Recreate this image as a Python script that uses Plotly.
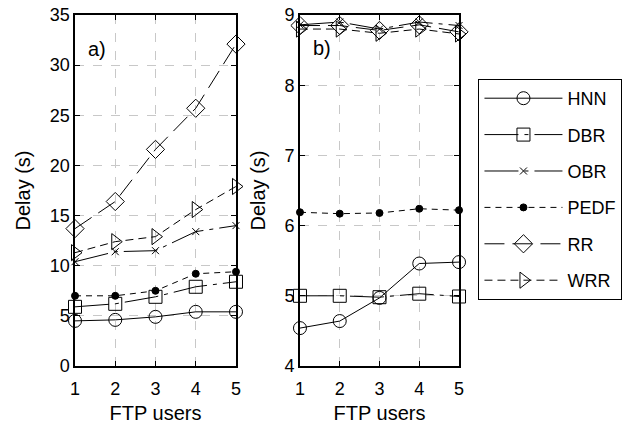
import plotly.graph_objects as go

users = [1, 2, 3, 4, 5]

# Panel a) delays (s)
a_hnn = [4.5, 4.6, 4.9, 5.4, 5.4]
a_dbr = [5.9, 6.2, 6.9, 7.9, 8.4]
a_obr = [10.4, 11.4, 11.5, 13.4, 14.0]
a_pedf = [7.0, 7.0, 7.5, 9.2, 9.4]
a_rr = [13.7, 16.4, 21.6, 25.7, 32.1]
a_wrr = [11.3, 12.4, 12.9, 15.6, 17.9]

# Panel b) delays (s)
b_hnn = [4.54, 4.64, 4.97, 5.46, 5.48]
b_dbr = [5.0, 5.0, 4.98, 5.03, 4.99]
b_obr = [8.86, 8.9, 8.8, 8.9, 8.85]
b_pedf = [6.19, 6.17, 6.18, 6.24, 6.22]
b_rr = [8.85, 8.85, 8.78, 8.86, 8.76]
b_wrr = [8.8, 8.8, 8.74, 8.8, 8.73]

names = ["HNN", "DBR", "OBR", "PEDF", "RR", "WRR"]
panel_a = [a_hnn, a_dbr, a_obr, a_pedf, a_rr, a_wrr]
panel_b = [b_hnn, b_dbr, b_obr, b_pedf, b_rr, b_wrr]

styles = {
    "HNN": dict(symbol="circle-open", size=13, dash="solid"),
    "DBR": dict(symbol="square-open", size=13, dash="34px,6px,4px,6px"),
    "OBR": dict(symbol="x-thin-open", size=7, dash="34px,6px,4px,6px"),
    "PEDF": dict(symbol="circle", size=7, dash="6px,5px"),
    "RR": dict(symbol="diamond-open", size=14, dash="20px,8px"),
    "WRR": dict(symbol="triangle-right-open", size=14, dash="8px,5px"),
}

FONT = "Liberation Sans, Arial, sans-serif"
fig = go.Figure()

for name, ya, yb in zip(names, panel_a, panel_b):
    st = styles[name]
    for i, (vals, xa, ya_ax) in enumerate([(ya, "x", "y"), (yb, "x2", "y2")]):
        fig.add_trace(go.Scatter(
            x=users, y=vals, xaxis=xa, yaxis=ya_ax,
            mode="lines+markers", name=name, legendgroup=name,
            showlegend=(i == 0), cliponaxis=False,
            line=dict(color="black", width=1, dash=st["dash"]),
            marker=dict(symbol=st["symbol"], size=st["size"], color="black",
                        line=dict(color="black", width=1)),
        ))

axis_common = dict(
    showline=True, linecolor="black", linewidth=1.5, mirror="ticks",
    ticks="inside", ticklen=5, tickcolor="black",
    showgrid=True, gridcolor="#c8c8c8", griddash="dash", gridwidth=1,
    zeroline=False, tickfont=dict(family=FONT, size=18, color="black"),
)

x_title = dict(text="FTP users", font=dict(size=20), standoff=12)
y_title = dict(text="Delay (s)", font=dict(size=20), standoff=14)

fig.update_layout(
    width=623, height=424,
    margin=dict(l=0, r=0, t=0, b=0, autoexpand=False),
    paper_bgcolor="white", plot_bgcolor="white",
    font=dict(family=FONT, color="black"),
    xaxis=dict(domain=[0.1204, 0.3788], range=[1, 5], dtick=1, title=x_title,
               ticklabelstandoff=6, anchor="y", **axis_common),
    yaxis=dict(domain=[0.1368, 0.9646], range=[0, 35], dtick=5, title=y_title,
               anchor="x", **axis_common),
    xaxis2=dict(domain=[0.4815, 0.7368], range=[1, 5], dtick=1, title=x_title,
                ticklabelstandoff=6, anchor="y2", **axis_common),
    yaxis2=dict(domain=[0.1368, 0.9646], range=[4, 9], dtick=1, title=y_title,
                anchor="x2", **axis_common),
    legend=dict(x=0.768, y=0.8137, xanchor="left", yanchor="top",
                bordercolor="black", borderwidth=1, bgcolor="white",
                font=dict(family=FONT, size=18, color="black"),
                itemwidth=78, tracegroupgap=10),
    annotations=[
        dict(text="a)", x=1.55, y=31.6, xref="x", yref="y", showarrow=False,
             font=dict(size=20, family=FONT)),
        dict(text="b)", x=1.55, y=8.53, xref="x2", yref="y2", showarrow=False,
             font=dict(size=20, family=FONT)),
    ],
)

fig.write_html("out.html")
